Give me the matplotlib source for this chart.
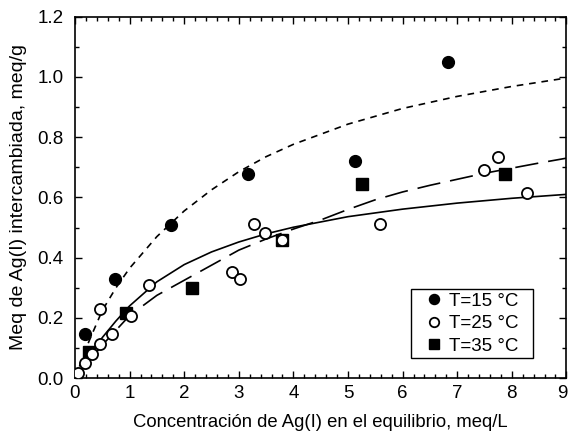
import matplotlib
matplotlib.use("Agg")
import matplotlib.pyplot as plt
import matplotlib.transforms as mtransforms
from matplotlib.patches import Rectangle
from matplotlib.ticker import MultipleLocator, FormatStrFormatter

plt.rcParams['font.family'] = ['Liberation Sans', 'DejaVu Sans']

# Experimental data
x15 = [0.19, 0.74, 1.76, 3.17, 5.13, 6.83]
y15 = [0.146, 0.33, 0.51, 0.676, 0.722, 1.048]

x25 = [0.05, 0.18, 0.32, 0.46, 0.45, 0.68, 1.03, 1.35, 2.88, 3.03, 3.28, 3.48, 3.80, 5.58, 7.49, 7.74, 8.27]
y25 = [0.018, 0.052, 0.082, 0.112, 0.229, 0.146, 0.206, 0.308, 0.353, 0.328, 0.513, 0.483, 0.458, 0.513, 0.692, 0.734, 0.613]

x35 = [0.0, 0.25, 0.94, 2.15, 3.79, 5.25, 7.88]
y35 = [0.0, 0.087, 0.217, 0.298, 0.458, 0.646, 0.677]

# Fitted curves
cx15 = [0, 0.25, 0.5, 0.75, 1, 1.5, 2, 2.5, 3, 3.5, 4, 5, 6, 7, 8, 9]
cy15 = [0, 0.12, 0.225, 0.30, 0.365, 0.47, 0.555, 0.625, 0.685, 0.735, 0.776, 0.843, 0.895, 0.935, 0.968, 0.996]

cx25 = [0, 0.25, 0.5, 0.75, 1, 1.5, 2, 2.5, 3, 3.5, 4, 5, 6, 7, 8, 9]
cy25 = [0, 0.07, 0.135, 0.19, 0.24, 0.32, 0.377, 0.419, 0.452, 0.479, 0.501, 0.536, 0.561, 0.581, 0.597, 0.610]

cx35 = [0, 0.5, 1, 1.5, 2, 2.5, 3, 3.5, 4, 4.5, 5, 5.5, 6, 6.5, 7, 7.5, 8, 8.5, 9]
cy35 = [0, 0.11, 0.208, 0.275, 0.325, 0.375, 0.425, 0.462, 0.495, 0.525, 0.56, 0.592, 0.618, 0.64, 0.66, 0.68, 0.697, 0.714, 0.73]

fig = plt.figure(figsize=(5.69, 4.38), dpi=100)
ax = fig.add_axes([0.1318, 0.1364, 0.8636, 0.8259])

ax.plot(cx15, cy15, color='black', lw=1.2, dashes=(4, 3.5))
ax.plot(cx25, cy25, color='black', lw=1.2)
ax.plot(cx35, cy35, color='black', lw=1.2, dashes=(14, 6))

ax.plot(x35, y35, 's', color='black', ms=8, ls='none', label='T=35 °C', zorder=3)
ax.plot(x15, y15, 'o', color='black', ms=8.5, ls='none', label='T=15 °C', zorder=4)
ax.plot(x25, y25, 'o', mfc='white', mec='black', mew=1.3, ms=8, ls='none', label='T=25 °C', zorder=4)

ax.set_xlim(0, 9)
ax.set_ylim(0, 1.2)
ax.xaxis.set_major_locator(MultipleLocator(1))
ax.xaxis.set_minor_locator(MultipleLocator(0.2))
ax.yaxis.set_major_locator(MultipleLocator(0.2))
ax.yaxis.set_minor_locator(MultipleLocator(0.1))
ax.yaxis.set_major_formatter(FormatStrFormatter('%.1f'))
ax.tick_params(which='both', direction='in', top=True, right=True, labelsize=13.5)
ax.tick_params(which='major', length=5, width=1)
ax.tick_params(which='minor', length=3, width=1)
ax.tick_params(axis='x', pad=4.7)
ax.tick_params(axis='y', pad=8.4)
for s in ax.spines.values():
    s.set_linewidth(1.2)

ax.set_xlabel('Concentración de Ag(I) en el equilibrio, meq/L', fontsize=13.3, labelpad=9)
ax.set_ylabel('Meq de Ag(I) intercambiada, meq/g', fontsize=14, labelpad=7)

# keep last x tick label ("9") inside the figure
fig.canvas.draw()
for lab in ax.get_xticklabels():
    if lab.get_text() == '9':
        lab.set_transform(lab.get_transform() +
                          mtransforms.ScaledTranslation(-4 / 100, 0, fig.dpi_scale_trans))

h, l = ax.get_legend_handles_labels()
order = [1, 2, 0]
bx0, bx1, by0, by1 = 0.6845, 0.9328, 0.0553, 0.2462
ax.add_patch(Rectangle((bx0, by0), bx1 - bx0, by1 - by0, transform=ax.transAxes,
                       facecolor='white', edgecolor='black', lw=1.0, zorder=5))
leg = ax.legend([h[i] for i in order], [l[i] for i in order], loc='center',
                bbox_to_anchor=((bx0 + bx1) / 2, (by0 + by1) / 2), fontsize=13.5,
                frameon=False, handlelength=0.9, handletextpad=0.35,
                borderpad=0.0, labelspacing=0.3, markerscale=0.85, borderaxespad=0)
leg.set_zorder(6)

fig.savefig('out.png', dpi=100)
